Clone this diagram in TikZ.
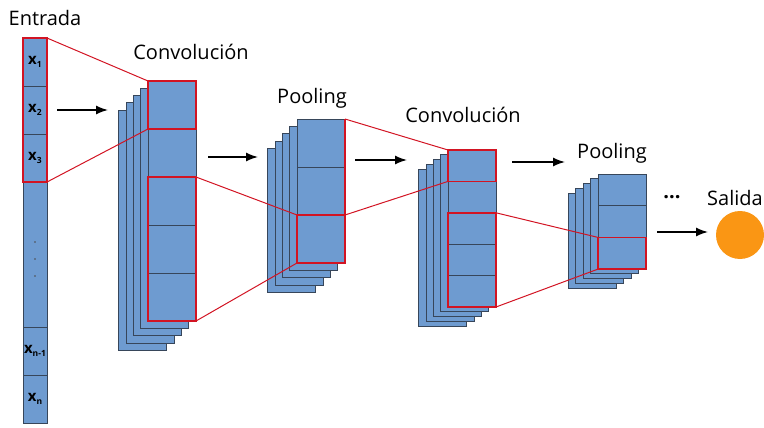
\documentclass[tikz,border=0pt]{standalone}
\usepackage{fontspec}
\setmainfont{Open Sans}
\usetikzlibrary{arrows.meta}

\definecolor{mapblue}{RGB}{110,155,208}
\definecolor{mapedge}{RGB}{55,70,90}
\definecolor{selred}{RGB}{210,20,35}
\definecolor{outorange}{RGB}{250,150,20}

% subscripted input entry
\newcommand{\xlab}[1]{{\bfseries x}\raisebox{-3pt}{\fontsize{8.5}{8.5}\selectfont\bfseries #1}}

\tikzset{
  sheet/.style={draw=mapedge, fill=mapblue, line width=0.8pt, anchor=north west, inner sep=0pt, outer sep=0pt},
  sel/.style={draw=selred, line width=1.4pt, anchor=north west, inner sep=0pt, outer sep=0pt},
  link/.style={selred, line width=1pt},
  flow/.style={-{Latex[length=12pt,width=9pt]}, line width=1.4pt},
  lbl/.style={anchor=base, font=\fontsize{20}{20}\selectfont},
}

\begin{document}
\begin{tikzpicture}[x=1pt,y=-1pt]
  \useasboundingbox (0,0) rectangle (764,428);

  % input column
  \begin{scope}[font=\fontsize{15}{15}\selectfont]
    \node[sheet, minimum width=24pt, minimum height=48pt] (x1) at (23,38) {\xlab{1}};
    \node[sheet, minimum width=24pt, minimum height=48pt] (x2) at (23,86) {\xlab{2}};
    \node[sheet, minimum width=24pt, minimum height=48pt] (x3) at (23,134) {\xlab{3}};
    \node[sheet, minimum width=24pt, minimum height=145pt] (xm) at (23,182) {};
    \node[sheet, minimum width=24pt, minimum height=48pt] (xn1) at (23,327) {\xlab{n-1}};
    \node[sheet, minimum width=24pt, minimum height=48pt] (xn) at (23,375) {\xlab{n}};
  \end{scope}
  \foreach \d in {242,259,276}
    \fill[black!70] (35,\d) circle (0.9pt);

  % first convolution
  \foreach \k in {4,3,2,1}
    \node[sheet, minimum width=48pt, minimum height=240pt] (c1s\k) at ({148-7.3*\k},{81+7.3*\k}) {};
  \foreach \i [count=\n from 0] in {a,b,c,d,e}
    \node[sheet, minimum width=48pt, minimum height=48pt] (c1\i) at (148,{81+48*\n}) {};

  % first pooling
  \foreach \k in {4,3,2,1}
    \node[sheet, minimum width=48pt, minimum height=144pt] (p1s\k) at ({297-7.3*\k},{119+7.3*\k}) {};
  \foreach \i [count=\n from 0] in {a,b,c}
    \node[sheet, minimum width=48pt, minimum height=48pt] (p1\i) at (297,{119+48*\n}) {};

  % second convolution
  \foreach \k in {4,3,2,1}
    \node[sheet, minimum width=48pt, minimum height=157pt] (c2s\k) at ({448-7.3*\k},{150+4.8*\k}) {};
  \foreach \i [count=\n from 0] in {a,b,c,d,e}
    \node[sheet, minimum width=48pt, minimum height=31.4pt] (c2\i) at (448,{150+31.4*\n}) {};

  % second pooling
  \foreach \k in {4,3,2,1}
    \node[sheet, minimum width=48pt, minimum height=95pt] (p2s\k) at ({598-7.5*\k},{174+4.8*\k}) {};
  \foreach \i [count=\n from 0] in {a,b,c}
    \node[sheet, minimum width=48pt, minimum height=31.7pt] (p2\i) at (598,{174+31.7*\n}) {};

  % output
  \node[circle, fill=outorange, minimum size=48pt, inner sep=0pt] (out) at (740,235) {};

  % receptive fields
  \node[sel, minimum width=24pt, minimum height=144pt] (xsel) at (23,38) {};
  \node[sel, minimum width=48pt, minimum height=48pt] (c1sel) at (148,81) {};
  \node[sel, minimum width=48pt, minimum height=144pt] (c1big) at (148,177) {};
  \node[sel, minimum width=48pt, minimum height=48pt] (p1sel) at (297,215) {};
  \draw[selred, line width=1.4pt] (p1a.north east) -- (p1b.south east);
  \node[sel, minimum width=48pt, minimum height=31.4pt] (c2sel) at (448,150) {};
  \node[sel, minimum width=48pt, minimum height=94.2pt] (c2big) at (448,212.8) {};
  \node[sel, minimum width=48pt, minimum height=31.7pt] (p2sel) at (598,237.4) {};

  \draw[link] (xsel.north east) -- (c1sel.north west);
  \draw[link] (xsel.south east) -- (c1sel.south west);
  \draw[link] (c1big.north east) -- (p1sel.north west);
  \draw[link] (c1big.south east) -- (p1sel.south west);
  \draw[link] (p1a.north east) -- (c2sel.north west);
  \draw[link] (p1sel.north east) -- (c2sel.south west);
  \draw[link] (c2big.north east) -- (p2sel.north west);
  \draw[link] (c2big.south east) -- (p2sel.south west);

  % flow arrows
  \coordinate (f1a) at (57,110);  \coordinate (f1b) at (108,110);
  \coordinate (f2a) at (208,157); \coordinate (f2b) at (258,157);
  \coordinate (f3a) at (355,160); \coordinate (f3b) at (407,160);
  \coordinate (f4a) at (512,162); \coordinate (f4b) at (565,162);
  \coordinate (f5a) at (657,232); \coordinate (f5b) at (708,232);
  \draw[flow] (f1a) -- (f1b);
  \draw[flow] (f2a) -- (f2b);
  \draw[flow] (f3a) -- (f3b);
  \draw[flow] (f4a) -- (f4b);
  \draw[flow] (f5a) -- (f5b);

  % titles
  \node[lbl] (tin) at (45,26) {Entrada};
  \node[lbl] (tc1) at (191,60) {Convolución};
  \node[lbl] (tp1) at (312,104) {Pooling};
  \node[lbl] (tc2) at (463,123) {Convolución};
  \node[lbl] (tp2) at (612,158) {Pooling};
  \node[lbl] (tout) at (735,205) {Salida};
  \node[lbl] (more) at (672,198) {\bfseries ...};
\end{tikzpicture}
\end{document}
